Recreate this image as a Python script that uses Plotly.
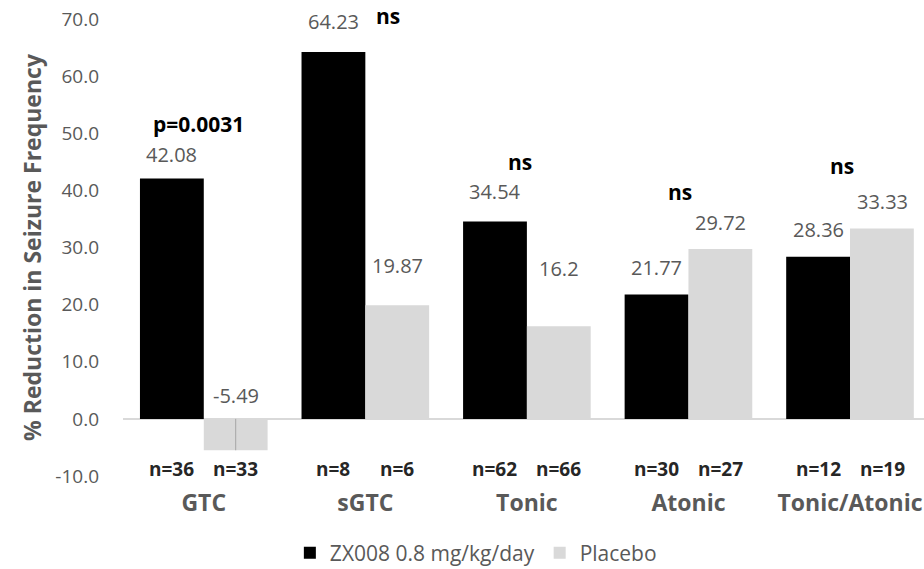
import plotly.graph_objects as go

categories = ["GTC", "sGTC", "Tonic", "Atonic", "Tonic/Atonic"]
zx008 = [42.08, 64.23, 34.54, 21.77, 28.36]
placebo = [-5.49, 19.87, 16.2, 29.72, 33.33]
n_zx008 = [36, 8, 62, 30, 12]
n_placebo = [33, 6, 66, 27, 19]
significance = ["p=0.0031", "ns", "ns", "ns", "ns"]
y_ticks = [-10, 0, 10, 20, 30, 40, 50, 60, 70]
y_tick_text = ["-10.0", "0.0", "10.0", "20.0", "30.0", "40.0", "50.0", "60.0", "70.0"]

# styling: pixel shifts of the value labels above bar tops
zx_shift = [24, 30, 30, 27, 27]
pl_shift = [23, 40, 58, 27, 27]
# significance label placement (x offset in category units, y in data units, px shift)
sig_dx = [-0.03, 0.14, -0.04, -0.05, -0.05]
sig_y = [51.6, 70.0, 45.0, 39.7, 44.3]
sig_shift = [0, 3, 0, 0, 0]

GRAY = "#595959"
FONT = "Open Sans, Liberation Sans, sans-serif"
OFF = 0.198
xs = list(range(len(categories)))

fig = go.Figure()
fig.add_trace(go.Bar(x=xs, y=zx008, name="ZX008 0.8 mg/kg/day",
                     marker=dict(color="#000000", line=dict(width=0))))
fig.add_trace(go.Bar(x=xs, y=placebo, name="Placebo",
                     marker=dict(color="#d9d9d9", line=dict(width=0)),
                     error_y=dict(type="data", symmetric=False,
                                  array=[-v if v < 0 else 0 for v in placebo],
                                  arrayminus=[0] * len(placebo),
                                  color="#a6a6a6", thickness=1, width=0)))

ann = []
for i in xs:
    v = zx008[i]
    ann.append(dict(x=i - OFF, y=v, text=f"{v:g}", showarrow=False, yshift=zx_shift[i],
                    font=dict(size=20, color=GRAY, family=FONT)))
    v = placebo[i]
    ann.append(dict(x=i + OFF, y=max(v, 0), text=f"{v:g}", showarrow=False, yshift=pl_shift[i],
                    font=dict(size=20, color=GRAY, family=FONT)))
    ann.append(dict(x=i + sig_dx[i], y=sig_y[i], text=f"<b>{significance[i]}</b>", showarrow=False,
                    yshift=sig_shift[i], font=dict(size=21, color="#000000", family=FONT)))
    ann.append(dict(x=i - OFF, y=-8.7, text=f"<b>n={n_zx008[i]}</b>", showarrow=False,
                    font=dict(size=19, color="#262626", family=FONT)))
    ann.append(dict(x=i + OFF, y=-8.7, text=f"<b>n={n_placebo[i]}</b>", showarrow=False,
                    font=dict(size=19, color="#262626", family=FONT)))

fig.update_layout(
    width=924, height=569,
    margin=dict(l=123, r=0, t=19, b=93, autoexpand=False),
    paper_bgcolor="white", plot_bgcolor="white",
    barmode="group", bargap=0.21, bargroupgap=0,
    showlegend=True,
    legend=dict(orientation="h", x=0.515, xanchor="center", xref="container",
                y=0.028, yanchor="middle", yref="container",
                font=dict(size=21, color=GRAY, family=FONT),
                itemwidth=30, tracegroupgap=0),
    xaxis=dict(range=[-0.5, 4.458], tickmode="array", tickvals=xs,
               ticktext=[f"<b>{c}</b>" for c in categories],
               tickfont=dict(size=23, color=GRAY, family=FONT),
               showline=False, showgrid=False, ticks="", ticklabelstandoff=11,
               zeroline=False),
    yaxis=dict(range=[-10, 70], tickmode="array", tickvals=y_ticks, ticktext=y_tick_text,
               tickfont=dict(size=19, color=GRAY, family=FONT),
               showgrid=False, zeroline=True, zerolinecolor="#d9d9d9", zerolinewidth=1.5,
               showline=False, ticks="", ticklabelstandoff=23,
               title=dict(text="<b>% Reduction in Seizure Frequency</b>",
                          font=dict(size=23, color=GRAY, family=FONT), standoff=7)),
    annotations=ann,
)

fig.write_html("out.html", config={"displayModeBar": False},
               post_script="document.body.style.margin='0';")
